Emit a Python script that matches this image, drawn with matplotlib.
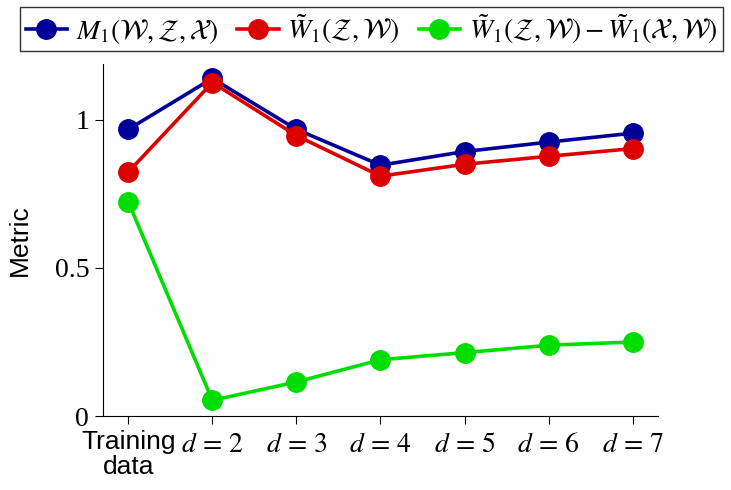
import matplotlib
matplotlib.use("Agg")
import matplotlib.pyplot as plt

plt.rcParams['mathtext.fontset'] = 'stix'

categories = ["Training\ndata", "$d\\,=\\,2$", "$d\\,=\\,3$", "$d\\,=\\,4$", "$d\\,=\\,5$", "$d\\,=\\,6$", "$d\\,=\\,7$"]
m1 = [0.968, 1.140, 0.968, 0.847, 0.893, 0.925, 0.955]
w1_zw = [0.824, 1.126, 0.947, 0.810, 0.850, 0.877, 0.903]
w1_diff = [0.723, 0.053, 0.115, 0.190, 0.214, 0.239, 0.250]

labels = [r"$M_1(\mathcal{W},\mathcal{Z},\mathcal{X})$",
          r"$\tilde{W}_1(\mathcal{Z},\mathcal{W})$",
          r"$\tilde{W}_1(\mathcal{Z},\mathcal{W})-\tilde{W}_1(\mathcal{X},\mathcal{W})$"]
colors = ["#000099", "#dd0000", "#00dd00"]

fig = plt.figure(figsize=(7.31, 4.9), dpi=100)
ax = fig.add_axes([0.141, 0.151, 0.759, 0.718])

x = list(range(len(categories)))
for vals, lab, c in zip([m1, w1_zw, w1_diff], labels, colors):
    ax.plot(x, vals, color=c, lw=2.6, marker="o", ms=14, mec=c, mfc=c, label=lab)

ax.set_xlim(-0.3, 6.3)
ax.set_ylim(0, 1.188)
ax.set_yticks([0, 0.5, 1])
ax.set_yticklabels(["0", "0.5", "1"], fontsize=20, family="Liberation Serif")
ax.set_xticks(x)
ax.set_xticklabels(categories, fontsize=20)
for t in ax.get_xticklabels()[:1]:
    t.set_family("Liberation Sans")
    t.set_fontsize(19)
    t.set_linespacing(1.05)
ax.tick_params(direction="out", length=6, width=0.8, pad=4)
for s in ["top", "right"]:
    ax.spines[s].set_visible(False)
ax.set_ylabel("Metric", fontsize=19, family="Liberation Sans", labelpad=16)

fig.legend(loc="upper center", bbox_to_anchor=(0.508, 0.986), ncol=3,
           fontsize=20, frameon=True, fancybox=False, edgecolor="black",
           handlelength=1.5, handletextpad=0.3, columnspacing=0.7,
           borderpad=0.2, borderaxespad=0)

fig.savefig("out.png", dpi=100)
